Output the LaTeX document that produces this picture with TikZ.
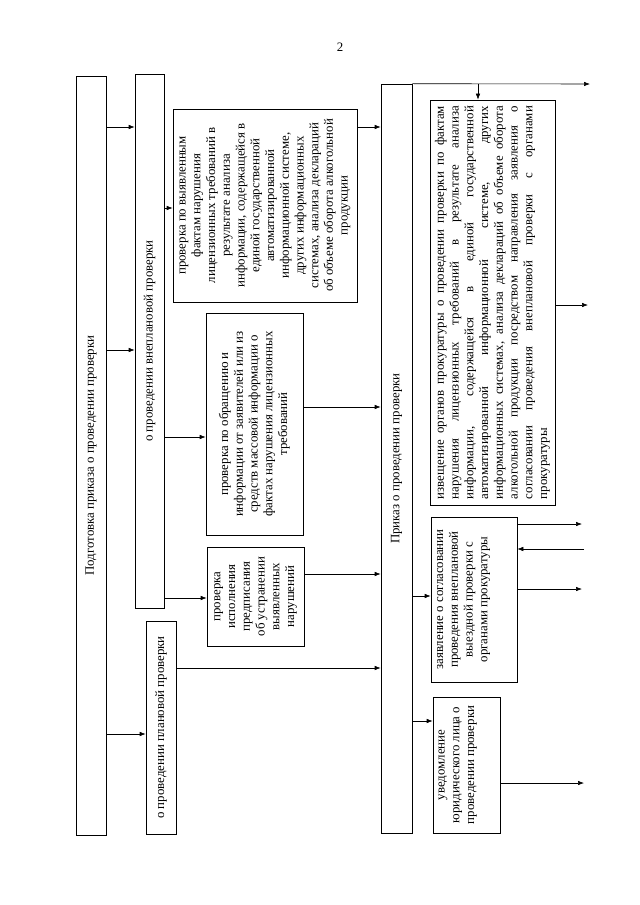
\documentclass[tikz,border=0pt]{standalone}
\usepackage{fontspec}
\setmainfont{Liberation Serif}
\usepackage{graphicx}
\usetikzlibrary{arrows.meta}

% rotated text block: [inner pos]{length}{depth}{text}
\newcommand{\rtxt}[4][c]{\rotatebox{90}{\parbox[c][#3][#1]{#2}{\centering #4}}}
\newcommand{\rjust}[3]{\rotatebox{90}{\parbox[c][#2][c]{#1}{\tolerance=10000 #3}}}

\begin{document}
\begin{tikzpicture}[x=1bp,y=-1bp]
          \tikzstyle{blk}=[draw,line width=.6pt,inner sep=0pt,font=\fontsize{12.9}{14.8}\selectfont]
          \tikzstyle{arr}=[draw,line width=.6pt,-{Latex[length=6bp,width=4.5bp]}]
          \useasboundingbox (0,0) rectangle (640,905);
          \node[font=\fontsize{12.9}{14.8}\selectfont] (pg) at (340,47) {2};
          % left column
          \node[blk,minimum width=30bp,minimum height=759bp] (pod) at (91,455.5) {\rotatebox{90}{Подготовка приказа о проведении проверки}};
          \node[blk,minimum width=29bp,minimum height=534bp] (vnepl) at (149.5,341) {\rotatebox{90}{о проведении внеплановой проверки}};
          \node[blk,minimum width=30bp,minimum height=213bp] (plan) at (161,727.5) {\rotatebox{90}{о проведении плановой проверки}};
          % kinds of unscheduled checks
          \node[blk,minimum width=184bp,minimum height=193bp] (pv1) at (265,205.5) {\rtxt{184bp}{180bp}{проверка по выявленным\\ фактам нарушения\\ лицензионных требований в\\ результате анализа\\ информации, содержащейся в\\ единой государственной\\ автоматизированной\\ информационной системе,\\ других информационных\\ системах, анализа деклараций\\ об объеме оборота алкогольной\\ продукции}};
          \node[blk,minimum width=97bp,minimum height=222bp] (pv2) at (254.5,424) {\rtxt{212bp}{90bp}{проверка по обращению и\\ информации от заявителей или из\\ средств массовой информации о\\ фактах нарушения лицензионных\\ требований}};
          \node[blk,minimum width=97bp,minimum height=99bp] (pv3) at (255.5,596.5) {\rtxt{92bp}{92bp}{проверка\\ исполнения\\ предписания\\ об устранении\\ выявленных\\ нарушений}};
          % order and what follows
          \node[blk,minimum width=31bp,minimum height=749bp] (prk) at (396.5,458.5) {\rotatebox{90}{Приказ о проведении проверки}};
          \node[blk,minimum width=125bp,minimum height=405bp] (izv) at (492.5,302.5) {\rjust{393bp}{120bp}{извещение органов прокуратуры о проведении проверки по фактам\linebreak нарушения лицензионных требований в результате анализа\linebreak информации, содержащейся в единой государственной\linebreak автоматизированной информационной системе, других\linebreak информационных системах, анализа деклараций об объеме оборота\linebreak алкогольной продукции посредством направления заявления о\linebreak согласовании проведения внеплановой проверки с органами\linebreak прокуратуры}};
          \node[blk,minimum width=86bp,minimum height=165bp] (zayav) at (474,599.5) {\rtxt[t]{155bp}{74bp}{заявление о согласовании\\ проведения внеплановой\\ выездной проверки с\\ органами прокуратуры}};
          \node[blk,minimum width=67bp,minimum height=136bp] (uved) at (466.5,765) {\rtxt[t]{128bp}{56bp}{уведомление\\ юридического лица о\\ проведении проверки}};
          % free ends on the right
          \coordinate (e1) at (590,84);
          \coordinate (tdn) at (478,84);
          \coordinate (o1) at (588,305);
          \coordinate (o2) at (582,524);
          \coordinate (i1) at (584,549);
          \coordinate (o3) at (582,589);
          \coordinate (o4) at (584,783);
          % connectors
          \draw[arr] (pod.east |- 0,127) -- (vnepl.west |- 0,127);
          \draw[arr] (pod.east |- 0,350) -- (vnepl.west |- 0,350);
          \draw[arr] (pod.east |- 0,734) -- (plan.west |- 0,734);
          \draw[arr] (vnepl.east |- 0,208) -- (pv1.west |- 0,208);
          \draw[arr] (vnepl.east |- 0,437) -- (pv2.west |- 0,437);
          \draw[arr] (vnepl.east |- 0,598) -- (pv3.west |- 0,598);
          \draw[arr] (pv1.east |- 0,127) -- (prk.west |- 0,127);
          \draw[arr] (pv2.east |- 0,407) -- (prk.west |- 0,407);
          \draw[arr] (pv3.east |- 0,574) -- (prk.west |- 0,574);
          \draw[arr] (plan.east |- 0,668) -- (prk.west |- 0,668);
          \draw[arr] (prk.north east) -- (e1);
          \draw[arr] (tdn) -- (tdn |- izv.north);
          \draw[arr] (izv.east |- o1) -- (o1);
          \draw[arr] (prk.east |- 0,596) -- (zayav.west |- 0,596);
          \draw[arr] (prk.east |- 0,721) -- (uved.west |- 0,721);
          \draw[arr] (zayav.east |- o2) -- (o2);
          \draw[arr] (i1) -- (zayav.east |- i1);
          \draw[arr] (zayav.east |- o3) -- (o3);
          \draw[arr] (uved.east |- o4) -- (o4);
        \end{tikzpicture}
\end{document}
